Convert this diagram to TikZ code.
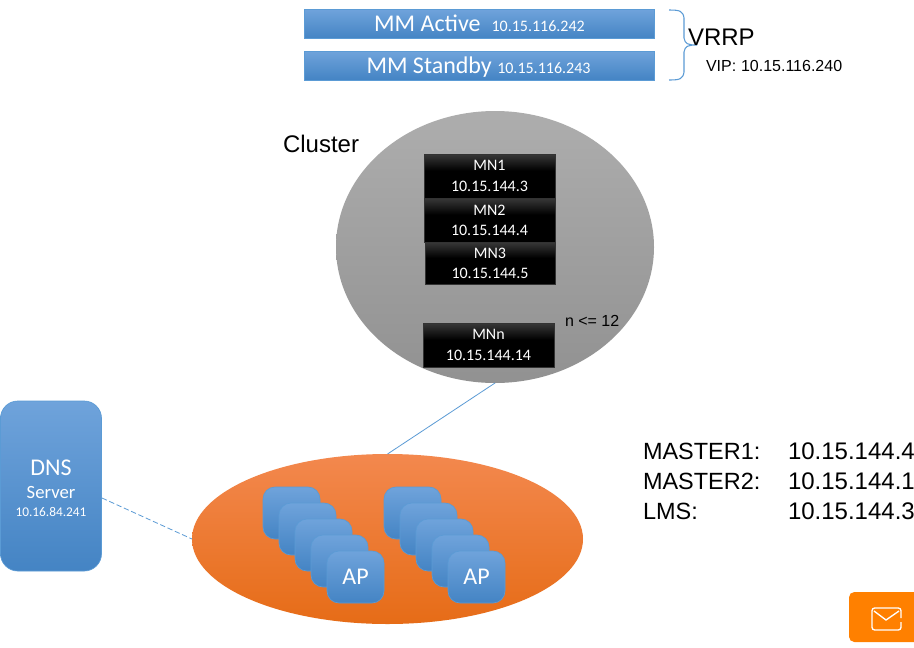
\documentclass[tikz,border=0pt]{standalone}
\usepackage{fontspec}
\setmainfont{Carlito}
\newfontfamily\arialf{Liberation Sans}
\usetikzlibrary{shapes.geometric}
\definecolor{bluetop}{HTML}{6FA3DB}
\definecolor{bluemid}{HTML}{5497DD}
\definecolor{bluebot}{HTML}{4484C4}
\definecolor{blueline}{HTML}{5B9BD5}
\definecolor{orangetop}{HTML}{F3884E}
\definecolor{orangemid}{HTML}{F57D2B}
\definecolor{orangebot}{HTML}{E66C17}
\definecolor{mailorange}{HTML}{FF8000}
\pgfdeclareverticalshading{mnshade}{100bp}{color(0bp)=(black); color(25bp)=(black); color(56bp)=(black); color(75bp)=(black!78); color(100bp)=(black!78)}
\newcommand{\fs}[1]{\fontsize{#1}{#1}\selectfont}
\tikzset{
  x=0.75pt,y=-0.75pt,
  pxsize/.style 2 args={minimum width=#1*0.75pt,minimum height=#2*0.75pt},
  plainbox/.style={inner sep=0pt,outer sep=0pt,text=white,align=center},
  bluefill/.style={top color=bluetop,middle color=bluemid,bottom color=bluebot,draw=blueline,line width=0.5pt},
  mmbox/.style={plainbox,bluefill,pxsize={350}{29},font=\fs{18}},
  mnbox/.style={plainbox,shading=mnshade,draw=black!80,line width=0.5pt,font=\fs{12},pxsize={131}{44}},
  apbox/.style={plainbox,bluefill,rounded corners=9pt,pxsize={57}{52},font=\fs{18}},
  lbl/.style={inner sep=0pt,outer sep=0pt,anchor=base west,font=\arialf\fs{18},text=black},
  smalllbl/.style={lbl,font=\arialf\fs{12}},
  link/.style={draw=blueline,line width=0.6pt}
}
\begin{document}
\begin{tikzpicture}
\useasboundingbox (0,0) rectangle (914,647);
\fill[white] (0,0) rectangle (914,647);
\begin{scope}
\clip (0,0) rectangle (914,647);
% VRRP pair
\node[mmbox] (active) at (479,24) {};
\node[mmbox] (standby) at (479,65.5) {};
\node[plainbox,font=\fs{18},anchor=base] at (479.5,31.5) {MM Active\hspace{8.25pt}{\fs{12}10.15.116.242}};
\node[plainbox,font=\fs{18},anchor=base] at (478.5,73) {MM Standby {\fs{12}10.15.116.243}};
\draw[link,line width=0.8pt] (669,10) .. controls (680,10) and (683,11) .. (684,18)
  -- (684,38) .. controls (685,44) and (688,45) .. (697,45)
  .. controls (688,45) and (685,46) .. (684,52)
  -- (684,72) .. controls (683,79) and (680,80) .. (669,80);
\node[lbl] (vrrp) at (688,45) {VRRP};
\node[smalllbl] (vip) at (706,71) {VIP:\hspace{0.3em}10.15.116.240};
% Cluster
\node[ellipse,inner sep=0pt,outer sep=0pt,pxsize={318}{272},top color=black!32,middle color=black!35,bottom color=black!43] (cluster) at (495,247) {};
\node[lbl] (clusterlbl) at (283,152) {Cluster};
\node[mnbox] (mn1) at (489.5,176) {MN1\\[3.2pt]10.15.144.3};
\node[mnbox] (mn2) at (489.5,220) {MN2\\[3.2pt]10.15.144.4};
\node[mnbox,pxsize={130}{42}] (mn3) at (490,263) {MN3\\[3.2pt]10.15.144.5};
\node[mnbox] (mnn) at (488.5,345) {MNn\\[3.2pt]10.15.144.14};
\node[smalllbl] (nmax) at (565,326) {n <= 12};
% AP field
\node[ellipse,inner sep=0pt,outer sep=0pt,pxsize={391}{170},top color=orangetop,middle color=orangemid,bottom color=orangebot] (field) at (387.5,539) {};
\draw[link] (cluster.south) -- (field.north);
\node[apbox] (a1) at (291.5,513) {};
\node[apbox] (a2) at (307.5,529) {};
\node[apbox] (a3) at (323.5,545) {};
\node[apbox] (a4) at (339.5,561) {};
\node[apbox] (a5) at (355.5,577) {AP};
\node[apbox] (b1) at (412.5,513) {};
\node[apbox] (b2) at (428.5,529) {};
\node[apbox] (b3) at (444.5,545) {};
\node[apbox] (b4) at (460.5,561) {};
\node[apbox] (b5) at (476.5,577) {AP};
% DNS
\node[plainbox,bluefill,rounded corners=13pt,pxsize={101}{170}] (dns) at (51,486) {};
\node[plainbox,font=\fs{18},anchor=base] (dnsa) at (51,475) {DNS};
\node[plainbox,font=\fs{14},anchor=base] (dnsb) at (51,498) {Server};
\node[plainbox,font=\fs{10},anchor=base] (dnsc) at (51,516) {10.16.84.241};
\coordinate (dnsport) at (102,498);
\draw[link,dashed,dash pattern=on 4pt off 2pt] (dnsport) -- (field.west);
% Master table
\node[lbl,font=\arialf\fs{17.6}] (m1) at (643,459) {MASTER1:};
\node[lbl] (m1v) at (788,459.5) {10.15.144.4};
\node[lbl,font=\arialf\fs{17.6}] (m2) at (643,489) {MASTER2:};
\node[lbl] (m2v) at (788,489.5) {10.15.144.14};
\node[lbl,font=\arialf\fs{17.6}] (m3) at (643,519) {LMS:};
\node[lbl] (m3v) at (788,519) {10.15.144.3};
% Mail button
\fill[mailorange,rounded corners=4pt] (849,592) rectangle (930,642);
\draw[white,line width=1pt,rounded corners=2pt] (901,622) -- (901,630) -- (872,630) -- (872,608) -- (901,608) -- (901,618);
\draw[white,line width=1pt] (874,611) -- (886,620) -- (899,611);
\end{scope}
\end{tikzpicture}
\end{document}
